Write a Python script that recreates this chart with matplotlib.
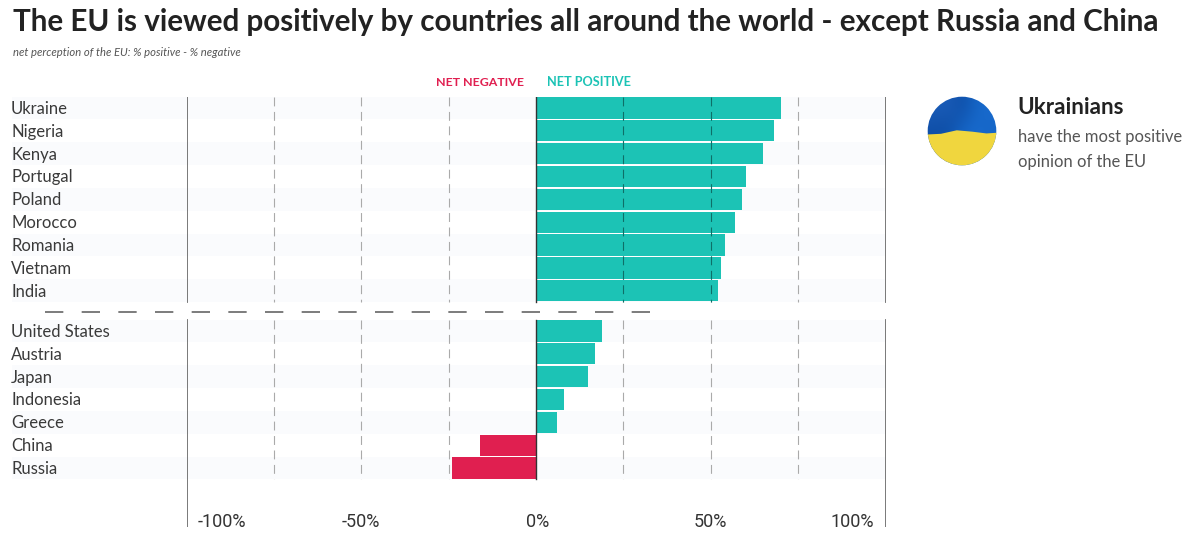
import matplotlib
matplotlib.use('Agg')
import matplotlib.pyplot as plt
from matplotlib.patches import Circle, Polygon
import numpy as np

plt.rcParams['font.family'] = ['Lato', 'DejaVu Sans']

top_countries = ['Ukraine', 'Nigeria', 'Kenya', 'Portugal', 'Poland', 'Morocco',
                 'Romania', 'Vietnam', 'India']
top_values = [70, 68, 65, 60, 59, 57, 54, 53, 52]
bottom_countries = ['United States', 'Austria', 'Japan', 'Indonesia', 'Greece',
                    'China', 'Russia']
bottom_values = [19, 17, 15, 8, 6, -16, -24]
tick_values = [-100, -50, 0, 50, 100]
tick_labels = ['-100%', '-50%', '0%', '50%', '100%']
dashed_grid = [-75, -50, -25, 25, 50, 75]

# rough colours of the blue part of the flag picture
blue_colors = [
    ['#1a5cb8', '#1a5cb8', '#0f4fa8', '#1464c4', '#1a6cd0'],
    ['#0f4fa8', '#0c4aa0', '#1464c4', '#1a6cd0', '#1464c4'],
    ['#0c4aa0', '#1464c4', '#1a6cd0', '#1468c8', '#1a6cd0'],
]
wave_x = [-1, -0.6, -0.15, 0.3, 0.7, 1]
wave_y = [-0.1, -0.08, 0.02, -0.02, -0.07, -0.05]

POS = '#1cc3b5'
NEG = '#e01f50'
W, H = 1200, 546
GAP = 0.76  # extra rows between the two groups

fig = plt.figure(figsize=(W / 100, H / 100), dpi=100)

# axes box in pixels: x 186.5..885.5, y 97..527
ax = fig.add_axes([186.5 / W, 1 - 527 / H, 699 / W, 430 / H])
ax.set_xlim(-100, 100)
ax.set_ylim(18.34, -0.48)
ax.axis('off')

top_y = list(range(len(top_values)))
bottom_y = [i + len(top_values) + GAP for i in range(len(bottom_values))]
rows = top_y + bottom_y
values = top_values + bottom_values
names = top_countries + bottom_countries
top_end = top_y[-1] + 0.48
bottom_start = bottom_y[0] - 0.48
bottom_end = bottom_y[-1] + 0.48

# light bands behind every other row
for group in (top_y, bottom_y):
    for y in group[::2]:
        ax.barh(y, 250, left=-150, height=1.0, color='#fafbfd', zorder=0, clip_on=False)

colors = [POS if v >= 0 else NEG for v in values]
ax.barh(rows, values, height=0.93, color=colors, zorder=2)

for x in dashed_grid:
    for y0, y1 in ((-0.48, top_end), (bottom_start, bottom_end)):
        ax.plot([x, x], [y0, y1], color='#aaaaaa', lw=0.8, dashes=(8, 5), zorder=1)

# grid shows through the long bars as darker teal
for x in (25, 50):
    ax.plot([x, x], [-0.48, top_end], color='#0e6f68', lw=0.8, dashes=(8, 5), zorder=3)

for x in (-100, 100):
    for y0, y1 in ((-0.48, top_end), (bottom_start, 18.34)):
        ax.plot([x, x], [y0, y1], color='#6e6e6e', lw=1.3, zorder=3)
for y0, y1 in ((-0.48, top_end), (bottom_start, bottom_end)):
    ax.plot([0, 0], [y0, y1], color='#333333', lw=1.0, zorder=4)

# separator between the two groups
ax.plot([-140.5, 33], [8.93, 8.93], color='#666666', lw=1.2, clip_on=False,
        dashes=(11, 11), dash_capstyle='butt', zorder=3)

for name, y in zip(names, rows):
    ax.text(-150.2, y + 0.04, name, fontsize=12, color='#3a3a3a', va='center', ha='left')

label_offset = {-100: 10, -50: 0, 0: 0.5, 50: 0, 100: -9.5}
for v, label in zip(tick_values, tick_labels):
    ax.text(v + label_offset[v], 18.14, label, fontsize=13, color='#333333',
            va='center', ha='center', family=['Roboto', 'DejaVu Sans'])

fig.text(13 / W, 1 - 22 / H, 'The EU is viewed positively by countries all around the world - except Russia and China',
         fontsize=21.35, fontweight='bold', color='#222222', va='center')
fig.text(13 / W, 1 - 53 / H, 'net perception of the EU: % positive - % negative',
         fontsize=8.1, style='italic', color='#555555', va='center')
fig.text(524 / W, 1 - 82 / H, 'NET NEGATIVE', fontsize=8.9, fontweight='bold', color=NEG,
         va='center', ha='right')
fig.text(547 / W, 1 - 82 / H, 'NET POSITIVE', fontsize=9.1, fontweight='bold', color=POS,
         va='center', ha='left')

fig.text(1017.5 / W, 1 - 107 / H, 'Ukrainians', fontsize=16.2, fontweight='bold',
         color='#222222', va='center')
fig.text(1018 / W, 1 - 137 / H, 'have the most positive', fontsize=11.9, color='#555555', va='center')
fig.text(1018 / W, 1 - 162 / H, 'opinion of the EU', fontsize=11.9, color='#555555', va='center')

# flag badge, box 927..996 x 97..165 px
flag = fig.add_axes([927 / W, 1 - 166 / H, 70 / W, 70 / H])
flag.axis('off')
blue_rgb = np.array([[matplotlib.colors.to_rgb(c) for c in row] for row in blue_colors])
im = flag.imshow(blue_rgb, extent=(-1, 1, -1, 1), interpolation='bicubic')
im.set_clip_path(Circle((0, 0), 0.98, transform=flag.transData))
yellow = Polygon(list(zip(wave_x + [1, -1], wave_y + [-1, -1])), closed=True,
                 color='#f0d63e', lw=0)
flag.add_patch(yellow)
yellow.set_clip_path(Circle((0, 0), 0.98, transform=flag.transData))

fig.savefig('out.png', dpi=100, facecolor='white')
